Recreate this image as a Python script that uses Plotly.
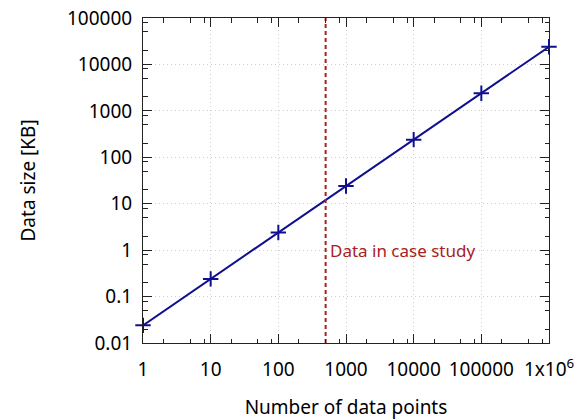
import math
import plotly.graph_objects as go

# Data
n_points = [1, 10, 100, 1000, 10000, 100000, 1000000]
data_size_kb = [0.024, 0.24, 2.4, 24, 240, 2400, 24000]
case_study_n = 500
case_study_label = "Data in case study"
x_title = "Number of data points"
y_title = "Data size [KB]"

x_tick_vals = [1, 10, 100, 1000, 10000, 100000, 1000000]
x_tick_text = ["1", "10", "100", "1000", "10000", "100000", "1x10<sup>6</sup>"]
y_tick_vals = [0.01, 0.1, 1, 10, 100, 1000, 10000, 100000]
y_tick_text = ["0.01", "0.1", "1", "10", "100", "1000", "10000", "100000"]
minor_mult = [2, 5, 8]

x_minor = [m * v for v in x_tick_vals[:-1] for m in minor_mult]
y_minor = [m * v for v in y_tick_vals[:-1] for m in minor_mult]

FONT = "Noto Sans"
LINE_COL = "#10108f"
RED = "#a82020"

fig = go.Figure()
fig.add_trace(go.Scatter(
    x=n_points, y=data_size_kb, mode="lines+markers",
    line=dict(color=LINE_COL, width=2),
    marker=dict(symbol="cross-thin", size=11, line=dict(color=LINE_COL, width=2)),
    showlegend=False, hoverinfo="skip", cliponaxis=False,
))
fig.add_trace(go.Scatter(
    x=[case_study_n, case_study_n], y=[y_tick_vals[0], y_tick_vals[-1]], mode="lines",
    line=dict(color=RED, width=2, dash="4px,3px"),
    showlegend=False, hoverinfo="skip",
))
fig.add_annotation(
    x=math.log10(case_study_n), y=math.log10(1), xref="x", yref="y",
    text=case_study_label, showarrow=False, xanchor="left", yanchor="middle",
    xshift=2, font=dict(family=FONT, size=17, color=RED),
)
fig.add_annotation(
    x=0, y=0.5, xref="paper", yref="paper", xshift=-116,
    text=y_title, showarrow=False, textangle=-90, xanchor="center", yanchor="middle",
    font=dict(family=FONT, size=19, color="#000000"),
)

axis_common = dict(
    type="log", showline=True, linecolor="#222222", linewidth=1, mirror="allticks",
    ticks="inside", ticklen=9, tickwidth=1, tickcolor="#222222",
    showgrid=True, gridcolor="#cfcfcf", griddash="1px,3px", gridwidth=1,
    zeroline=False, tickfont=dict(family=FONT, size=19, color="#000000"),
    automargin=False,
)

fig.update_xaxes(
    **axis_common, range=[0, 6], tickmode="array", tickvals=x_tick_vals, ticktext=x_tick_text,
    minor=dict(tickmode="array", tickvals=x_minor, ticks="inside", ticklen=4.5,
               tickcolor="#222222", showgrid=False),
    title=dict(text=x_title, font=dict(family=FONT, size=19, color="#000000"),
               standoff=21),
    ticklabelstandoff=9,
)
fig.update_yaxes(
    **axis_common, range=[-2, 5], tickmode="array", tickvals=y_tick_vals, ticktext=y_tick_text,
    minor=dict(tickmode="array", tickvals=y_minor, ticks="inside", ticklen=4.5,
               tickcolor="#222222", showgrid=False),
    ticklabelstandoff=6,
)

fig.update_layout(
    width=581, height=420,
    margin=dict(l=143, r=32, t=18, b=77),
    paper_bgcolor="white", plot_bgcolor="white",
    font=dict(family=FONT),
)

fig.write_html(
    "out.html",
    config={"displayModeBar": False},
    post_script="document.body.style.margin='0';document.body.style.overflow='hidden';",
)
